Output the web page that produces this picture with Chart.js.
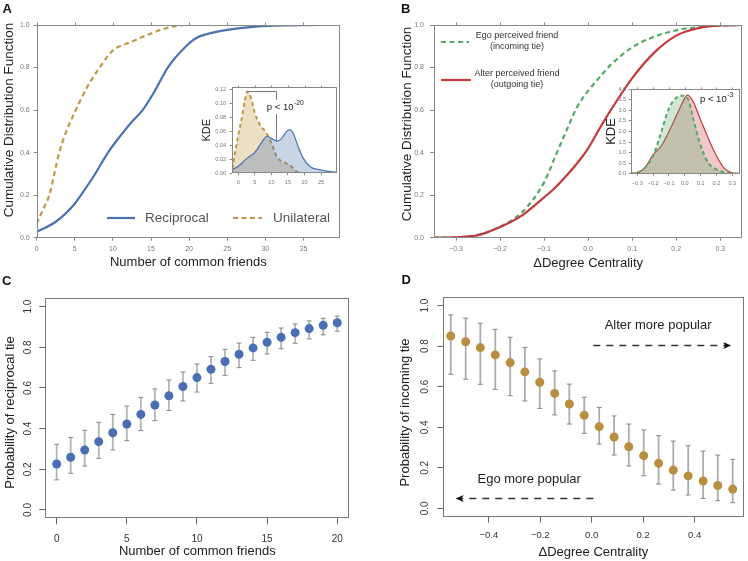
<!DOCTYPE html>
<html>
<head>
<meta charset="utf-8">
<script src="https://cdn.jsdelivr.net/npm/chart.js@4.4.1/dist/chart.umd.min.js"></script>
<style>
  body { margin:0; background:#fff; }
  #fig { position:relative; width:748px; height:561px; overflow:hidden; background:#fff; }
  #fig canvas { position:absolute; }
</style>
</head>
<body>
<div id="fig">
  <canvas id="cA" width="374" height="280" style="left:0;top:0"></canvas>
  <canvas id="cB" width="374" height="280" style="left:374px;top:0"></canvas>
  <canvas id="cC" width="374" height="281" style="left:0;top:280px"></canvas>
  <canvas id="cD" width="374" height="281" style="left:374px;top:280px"></canvas>
  <canvas id="cAi" width="150" height="110" style="left:195px;top:80px"></canvas>
  <canvas id="cBi" width="155" height="110" style="left:590px;top:80px"></canvas>
  <canvas id="cL" width="748" height="561" style="left:0;top:0"></canvas>
</div>
<script>
var FONT = '"Liberation Sans", Arial, Helvetica, sans-serif';
var BLUE = '#4c72b0', GOLD = '#bc984d', GREEN = '#55a868', RED = '#c4393d';
var DOT_BLUE = '#4a6eb4', DOT_GOLD = '#b88f3e';

// ---- panel A: CDF of number of common friends ----
var aNames = ['Reciprocal', 'Unilateral'];
var aRecipX = [0, 2.5, 5, 5.8, 7.5, 9.35, 11, 12.5, 13.9, 15.5, 17.2, 19.6, 21, 23, 25, 28, 31, 37];
var aRecipY = [0.028, 0.075, 0.16, 0.2, 0.29, 0.4, 0.48, 0.545, 0.6, 0.69, 0.8, 0.9, 0.94, 0.963, 0.977, 0.99, 0.997, 1.0];
var aUniX = [0, 0.8, 1.65, 2.96, 4, 5.13, 6.5, 8.26, 10, 12.5, 15, 17.5, 19.3];
var aUniY = [0.065, 0.13, 0.2, 0.4, 0.51, 0.6, 0.7, 0.8, 0.88, 0.922, 0.96, 0.99, 1.0];
var aXTicks = [0, 5, 10, 15, 20, 25, 30, 35];
var cdfYTicks = [0, 0.2, 0.4, 0.6, 0.8, 1.0];
var cdfTitle = 'Cumulative Distribution Function';

// inset A: KDE
var kRecX = [-2, 0, 2.5, 5, 7.6, 8.6, 10, 11.6, 13.1, 14.6, 15.6, 16.6, 18.1, 19.7, 21.7, 24.7, 27.7, 29.9];
var kRecY = [0.005, 0.01, 0.021, 0.03, 0.048, 0.053, 0.05, 0.046, 0.05, 0.06, 0.062, 0.057, 0.038, 0.021, 0.0095, 0.0048, 0.0024, 0.0014];
var kUniX = [-1.8, -1.0, 0, 1.0, 2.0, 2.7, 4.0, 5.0, 6.6, 8.6, 10, 11.6, 13.1, 14.6, 16.1, 17.6, 18.6];
var kUniY = [0.006, 0.029, 0.055, 0.078, 0.105, 0.117, 0.105, 0.086, 0.069, 0.057, 0.043, 0.024, 0.017, 0.014, 0.0095, 0.0024, 0];
var kAXTicks = [0, 5, 10, 15, 20, 25];
var kAYTicks = [0, 0.02, 0.04, 0.06, 0.08, 0.10, 0.12];
var kABracket = [2.7, 11.5, 0.117, 0.046];   // x start, x end, top y, bottom y
var kAPval = ['p < 10', '-20', 8.6, 0.094];

// ---- panel B: CDF of delta degree centrality ----
var bNames = [['Ego perceived friend', '(incoming tie)'], ['Alter perceived friend', '(outgoing tie)']];
var bX = [-0.35, -0.3, -0.25, -0.2, -0.15, -0.1, -0.075, -0.05, -0.025, 0, 0.025, 0.05, 0.1, 0.15, 0.2, 0.25, 0.3, 0.35];
var bEgo = [0, 0.002, 0.013, 0.052, 0.12, 0.26, 0.38, 0.5, 0.615, 0.69, 0.752, 0.81, 0.895, 0.945, 0.975, 0.99, 0.998, 1.0];
var bAlter = [0, 0.002, 0.012, 0.05, 0.105, 0.19, 0.235, 0.29, 0.35, 0.42, 0.51, 0.595, 0.75, 0.87, 0.95, 0.985, 0.998, 1.0];
var bXTicks = [-0.3, -0.2, -0.1, 0, 0.1, 0.2, 0.3];

// inset B: KDE
var kEgoX = [-0.342, -0.3, -0.25, -0.2, -0.15, -0.1, -0.05, -0.01, 0.025, 0.05, 0.1, 0.15, 0.2, 0.25, 0.3, 0.347];
var kEgoY = [0.01, 0.05, 0.3, 0.85, 1.95, 3.1, 3.62, 3.7, 3.45, 2.7, 1.33, 0.5, 0.2, 0.07, 0.02, 0];
var kAltX = [-0.342, -0.3, -0.25, -0.2, -0.15, -0.1, -0.05, 0, 0.015, 0.05, 0.1, 0.15, 0.2, 0.25, 0.3, 0.347];
var kAltY = [0.01, 0.05, 0.3, 0.9, 1.3, 2.0, 2.8, 3.58, 3.72, 3.45, 2.55, 1.65, 0.85, 0.25, 0.04, 0];
var kBYTicks = [0, 0.5, 1.0, 1.5, 2.0, 2.5, 3.0, 3.5, 4.0];
var kBPval = ['p < 10', '-3', 0.096, 3.53];

// ---- panel C: probability of reciprocal tie ----
var cX = [0, 1, 2, 3, 4, 5, 6, 7, 8, 9, 10, 11, 12, 13, 14, 15, 16, 17, 18, 19, 20];
var cY = [0.226, 0.259, 0.295, 0.336, 0.380, 0.423, 0.470, 0.516, 0.562, 0.607, 0.651, 0.692, 0.730, 0.766, 0.797, 0.825, 0.849, 0.872, 0.892, 0.908, 0.921];
var cHi = [0.323, 0.357, 0.392, 0.431, 0.470, 0.511, 0.554, 0.595, 0.639, 0.679, 0.718, 0.754, 0.790, 0.821, 0.849, 0.874, 0.895, 0.915, 0.930, 0.943, 0.954];
var cLo = [0.148, 0.180, 0.216, 0.254, 0.295, 0.341, 0.390, 0.439, 0.489, 0.536, 0.580, 0.623, 0.662, 0.700, 0.736, 0.767, 0.793, 0.820, 0.841, 0.861, 0.879];
var cXTicks = [0, 5, 10, 15, 20];
var probTicks = [0, 0.2, 0.4, 0.6, 0.8, 1.0];

// ---- panel D: probability of incoming tie ----
var dX = [-0.548, -0.490, -0.433, -0.375, -0.317, -0.260, -0.202, -0.144, -0.087, -0.029, 0.029, 0.087, 0.144, 0.202, 0.260, 0.317, 0.375, 0.433, 0.490, 0.548];
var dY = [0.850, 0.822, 0.793, 0.757, 0.719, 0.673, 0.622, 0.567, 0.515, 0.459, 0.403, 0.352, 0.304, 0.260, 0.222, 0.189, 0.160, 0.135, 0.113, 0.095];
var dHi = [0.954, 0.938, 0.913, 0.883, 0.844, 0.794, 0.737, 0.678, 0.613, 0.548, 0.498, 0.456, 0.416, 0.387, 0.359, 0.332, 0.309, 0.283, 0.263, 0.242];
var dLo = [0.661, 0.637, 0.612, 0.587, 0.556, 0.530, 0.493, 0.461, 0.416, 0.370, 0.317, 0.263, 0.209, 0.161, 0.120, 0.090, 0.066, 0.049, 0.038, 0.028];
var dXTicks = [-0.4, -0.2, 0, 0.2, 0.4];
var dNotes = [['Alter more popular', 0.258, 0.9], ['Ego more popular', -0.243, 0.143]];
var dArrows = [[0.006, 0.542, 0.806], [0.006, -0.529, 0.049]];   // from x, to x, y

Chart.defaults.font.family = FONT;
Chart.defaults.animation = false;

function pts(xs, ys) { return xs.map(function (x, i) { return { x: x, y: ys[i] }; }); }
function fmt(d) { return function (v) { return (v < -1e-9 ? '\u2212' : '') + Math.abs(v).toFixed(d); }; }

function axis(o) {
  return {
    type: 'linear', min: o.min, max: o.max, position: o.pos,
    afterBuildTicks: function (s) { s.ticks = o.ticks.map(function (v) { return { value: v }; }); },
    afterFit: function (s) { if (o.pos === 'left') s.width = o.size; else s.height = o.size; },
    border: { display: false },
    grid: { drawOnChartArea: false, drawTicks: true, tickLength: o.tickLen, color: o.color, tickColor: o.color, lineWidth: 1 },
    ticks: { display: o.showLabels !== false, padding: o.pad, color: o.labelColor || o.color, font: { family: FONT, size: o.fs },
             callback: o.fmt, maxRotation: 0, autoSkip: false },
    title: { display: !!o.title, text: o.title || '', color: '#222', font: { family: FONT, size: o.tfs || 13, lineHeight: 1.2 },
             padding: o.pos === 'left' ? { top: o.tpad, bottom: 0 } : { top: 0, bottom: o.tpad } }
  };
}

function boxPlugin(color, tick) {
  return { id: 'box', afterDraw: function (c) {
    var a = c.chartArea, g = c.ctx;
    var l = Math.round(a.left) + 0.5, t = Math.round(a.top) + 0.5, r = Math.round(a.right) - 0.5, b = Math.round(a.bottom) - 0.5;
    g.save(); g.strokeStyle = color; g.lineWidth = 1;
    g.strokeRect(l, t, r - l, b - t);
    if (tick) {
      g.beginPath();
      c.scales.x.ticks.forEach(function (tk) {
        var p = Math.round(c.scales.x.getPixelForValue(tk.value)) + 0.5;
        g.moveTo(p, t); g.lineTo(p, t - tick);
      });
      g.stroke();
    }
    g.restore();
  } };
}

// y-axis title drawn at a given spot (the original centres it a bit above the plot middle)
function yTitle(text, x, y, fs) {
  return { id: 'yTitle', afterDraw: function (c) {
    var g = c.ctx; g.save();
    g.fillStyle = '#222'; g.font = fs + 'px ' + FONT; g.textAlign = 'center'; g.textBaseline = 'middle';
    g.translate(x, y); g.rotate(-Math.PI / 2); g.fillText(text, 0, 0);
    g.restore();
  } };
}

var whiteBg = { id: 'whiteBg', beforeDraw: function (c) {
  var a = c.chartArea; c.ctx.save(); c.ctx.fillStyle = '#fff';
  c.ctx.fillRect(a.left, a.top, a.right - a.left, a.bottom - a.top); c.ctx.restore();
} };

function pText(g, x, y, base, sup, fs) {
  g.save();
  g.font = fs + 'px ' + FONT; var w = g.measureText(base).width;
  g.font = (fs * 0.72) + 'px ' + FONT; var w2 = g.measureText(sup).width;
  g.fillStyle = '#fff'; g.fillRect(x - 1.5, y - fs * 0.8, w + w2 + 3.5, fs * 1.5);
  g.fillStyle = '#222'; g.textBaseline = 'middle'; g.textAlign = 'left';
  g.font = fs + 'px ' + FONT; g.fillText(base, x, y);
  g.font = (fs * 0.72) + 'px ' + FONT; g.fillText(sup, x + w + 0.5, y - fs * 0.42);
  g.restore();
}

function errPlugin(xs, lo, hi, lineColor, capColor, cap) {
  return { id: 'err', beforeDatasetsDraw: function (c) {
    var g = c.ctx, sx = c.scales.x, sy = c.scales.y;
    g.save();
    xs.forEach(function (x, i) {
      var px = sx.getPixelForValue(x), y0 = sy.getPixelForValue(lo[i]), y1 = sy.getPixelForValue(hi[i]);
      g.strokeStyle = lineColor; g.lineWidth = 1.8;
      g.beginPath(); g.moveTo(px, y0); g.lineTo(px, y1); g.stroke();
      g.strokeStyle = capColor; g.lineWidth = 1;
      g.beginPath(); g.moveTo(px - cap, y0); g.lineTo(px + cap, y0); g.moveTo(px - cap, y1); g.lineTo(px + cap, y1); g.stroke();
    });
    g.restore();
  } };
}

function rotLabels(vals, xc, f, color, fs) {
  return { id: 'rotLabels', afterDraw: function (c) {
    var g = c.ctx, sy = c.scales.y;
    g.save(); g.fillStyle = color; g.font = fs + 'px ' + FONT; g.textAlign = 'center'; g.textBaseline = 'middle';
    vals.forEach(function (v) {
      g.save(); g.translate(xc, sy.getPixelForValue(v)); g.rotate(-Math.PI / 2); g.fillText(f(v), 0, 0); g.restore();
    });
    g.restore();
  } };
}

var baseOpts = function (pad, scales) {
  return { responsive: false, animation: false, layout: { padding: pad },
           plugins: { legend: { display: false }, tooltip: { enabled: false } }, scales: scales };
};

// ---- A ----
var legendA = { id: 'legA', afterDraw: function (c) {
  var g = c.ctx; g.save();
  g.lineWidth = 2.2; g.strokeStyle = BLUE;
  g.beginPath(); g.moveTo(107, 218); g.lineTo(135, 218); g.stroke();
  g.strokeStyle = GOLD; g.setLineDash([5, 3.5]);
  g.beginPath(); g.moveTo(233, 218); g.lineTo(262, 218); g.stroke(); g.setLineDash([]);
  g.fillStyle = '#555'; g.font = '13.5px ' + FONT; g.textBaseline = 'middle'; g.textAlign = 'left';
  g.fillText(aNames[0], 145, 218.5); g.fillText(aNames[1], 273, 218.5);
  g.restore();
} };

new Chart(document.getElementById('cA'), {
  type: 'line',
  data: { datasets: [
    { data: pts(aUniX, aUniY), borderColor: GOLD, borderWidth: 2.2, borderDash: [5, 3.5], pointRadius: 0, cubicInterpolationMode: 'monotone', fill: false },
    { data: pts(aRecipX, aRecipY), borderColor: BLUE, borderWidth: 2.2, pointRadius: 0, cubicInterpolationMode: 'monotone', fill: false }
  ] },
  options: baseOpts({ left: 0, right: 34, top: 25, bottom: 0 }, {
    x: axis({ pos: 'bottom', min: 0, max: 39.8, ticks: aXTicks, size: 42.3, tickLen: 3, pad: 4, fs: 7, color: '#888', labelColor: '#777', fmt: fmt(0), title: 'Number of common friends', tpad: 9.5 }),
    y: axis({ pos: 'left', min: 0, max: 1, ticks: cdfYTicks, size: 36.7, tickLen: 3, pad: 4, fs: 7, color: '#888', labelColor: '#777', fmt: fmt(1) })
  }),
  plugins: [boxPlugin('#888', 3), legendA, yTitle(cdfTitle, 9.5, 120, 13.5)]
});

// ---- inset A ----
var bracketA = { id: 'bracketA', afterDraw: function (c) {
  var g = c.ctx, sx = c.scales.x, sy = c.scales.y;
  g.save(); g.strokeStyle = '#777'; g.lineWidth = 1;
  var x0 = sx.getPixelForValue(kABracket[0]), x1 = Math.round(sx.getPixelForValue(kABracket[1])) + 0.5;
  var y0 = Math.round(sy.getPixelForValue(kABracket[2])) + 0.5, y1 = sy.getPixelForValue(kABracket[3]);
  g.beginPath(); g.moveTo(x0, y0); g.lineTo(x1, y0); g.lineTo(x1, y1); g.stroke();
  g.restore();
  pText(g, sx.getPixelForValue(kAPval[2]), sy.getPixelForValue(kAPval[3]), kAPval[0], kAPval[1], 9.5);
} };

new Chart(document.getElementById('cAi'), {
  type: 'line',
  data: { datasets: [
    { data: pts(kRecX, kRecY), borderColor: BLUE, borderWidth: 1.2, backgroundColor: 'rgba(76,114,176,0.3)', fill: 'origin', pointRadius: 0, cubicInterpolationMode: 'monotone' },
    { data: pts(kUniX, kUniY), borderColor: GOLD, borderWidth: 2, borderDash: [4, 3], backgroundColor: 'rgba(204,170,100,0.38)', fill: 'origin', pointRadius: 0, cubicInterpolationMode: 'monotone' }
  ] },
  options: baseOpts({ left: 0, right: 7.7, top: 7.3, bottom: 0 }, {
    x: axis({ pos: 'bottom', min: -2, max: 29.9, ticks: kAXTicks, size: 16.7, tickLen: 2, pad: 3.5, fs: 5.6, color: '#888', labelColor: '#777', fmt: fmt(0) }),
    y: axis({ pos: 'left', min: 0, max: 0.123, ticks: kAYTicks, size: 36.7, tickLen: 2, pad: 3.5, fs: 5.6, color: '#888', labelColor: '#777', fmt: fmt(2), title: 'KDE', tfs: 11, tpad: 5.4 })
  }),
  plugins: [whiteBg, boxPlugin('#888', 2), bracketA]
});

// ---- B ----
var legendB = { id: 'legB', afterDraw: function (c) {
  var g = c.ctx; g.save();
  g.lineWidth = 2.2; g.strokeStyle = GREEN; g.setLineDash([5, 3.5]);
  g.beginPath(); g.moveTo(67, 42); g.lineTo(95, 42); g.stroke(); g.setLineDash([]);
  g.strokeStyle = RED; g.beginPath(); g.moveTo(67, 80); g.lineTo(97, 80); g.stroke();
  g.fillStyle = '#333'; g.font = '9px ' + FONT; g.textBaseline = 'middle'; g.textAlign = 'center';
  g.fillText(bNames[0][0], 143, 35.5); g.fillText(bNames[0][1], 143, 46.5);
  g.fillText(bNames[1][0], 143, 73.5); g.fillText(bNames[1][1], 143, 84.5);
  g.restore();
} };

new Chart(document.getElementById('cB'), {
  type: 'line',
  data: { datasets: [
    { data: pts(bX, bAlter), borderColor: RED, borderWidth: 2.2, pointRadius: 0, cubicInterpolationMode: 'monotone', fill: false },
    { data: pts(bX, bEgo), borderColor: GREEN, borderWidth: 2.2, borderDash: [5, 3.5], pointRadius: 0, cubicInterpolationMode: 'monotone', fill: false }
  ] },
  options: baseOpts({ left: 0, right: 5.7, top: 25, bottom: 0 }, {
    x: axis({ pos: 'bottom', min: -0.35, max: 0.35, ticks: bXTicks, size: 42.3, tickLen: 3, pad: 4, fs: 7, color: '#888', labelColor: '#777', fmt: fmt(1), title: '\u0394Degree Centrality', tpad: 9.2 }),
    y: axis({ pos: 'left', min: 0, max: 1, ticks: cdfYTicks, size: 60, tickLen: 4, pad: 6, fs: 7, color: '#888', labelColor: '#777', fmt: fmt(1) })
  }),
  plugins: [boxPlugin('#888', 3), legendB, yTitle(cdfTitle, 33, 124, 13.5)]
});

// ---- inset B ----
var pvalB = { id: 'pvalB', afterDraw: function (c) {
  pText(c.ctx, c.scales.x.getPixelForValue(kBPval[2]), c.scales.y.getPixelForValue(kBPval[3]), kBPval[0], kBPval[1], 9.5);
} };

new Chart(document.getElementById('cBi'), {
  type: 'line',
  data: { datasets: [
    { data: pts(kEgoX, kEgoY), borderColor: GREEN, borderWidth: 2, borderDash: [4, 3], backgroundColor: 'rgba(85,168,104,0.28)', fill: 'origin', pointRadius: 0, cubicInterpolationMode: 'monotone' },
    { data: pts(kAltX, kAltY), borderColor: RED, borderWidth: 1.2, backgroundColor: 'rgba(196,60,63,0.28)', fill: 'origin', pointRadius: 0, cubicInterpolationMode: 'monotone' }
  ] },
  options: baseOpts({ left: 0, right: 5.3, top: 9.3, bottom: 0 }, {
    x: axis({ pos: 'bottom', min: -0.342, max: 0.347, ticks: bXTicks, size: 16.3, tickLen: 2, pad: 4, fs: 5.6, color: '#888', labelColor: '#777', fmt: fmt(1) }),
    y: axis({ pos: 'left', min: 0, max: 4.0, ticks: kBYTicks, size: 40.7, tickLen: 2, pad: 2.5, fs: 5.6, color: '#888', labelColor: '#777', fmt: fmt(1), title: 'KDE', tfs: 13, tpad: 13.5 })
  }),
  plugins: [whiteBg, boxPlugin('#888', 2), pvalB]
});

// ---- C ----
new Chart(document.getElementById('cC'), {
  type: 'scatter',
  data: { datasets: [{ data: pts(cX, cY), pointRadius: 4.5, pointBackgroundColor: DOT_BLUE, pointBorderColor: DOT_BLUE, pointBorderWidth: 0 }] },
  options: baseOpts({ left: 0, right: 24.7, top: 18.3, bottom: 0 }, {
    x: axis({ pos: 'bottom', min: -0.81, max: 20.86, ticks: cXTicks, size: 42.7, tickLen: 6, pad: 8.7, fs: 10, color: '#666', labelColor: '#333', fmt: fmt(0), title: 'Number of common friends', tpad: 1.5 }),
    y: axis({ pos: 'left', min: -0.041, max: 1.041, ticks: probTicks, size: 45.3, tickLen: 6, pad: 0, fs: 10, color: '#666', showLabels: false })
  }),
  plugins: [boxPlugin('#777', 0), errPlugin(cX, cLo, cHi, '#b4b4b4', '#888', 2.5), rotLabels(probTicks, 28.3, fmt(1), '#333', 10),
            yTitle('Probability of reciprocal tie', 10, 132.5, 13)]
});

// ---- D ----
var notesD = { id: 'notesD', afterDraw: function (c) {
  var g = c.ctx, sx = c.scales.x, sy = c.scales.y;
  g.save();
  g.fillStyle = '#222'; g.font = '13px ' + FONT; g.textAlign = 'center'; g.textBaseline = 'middle';
  dNotes.forEach(function (n) { g.fillText(n[0], sx.getPixelForValue(n[1]), sy.getPixelForValue(n[2])); });
  dArrows.forEach(function (a) {
    var x0 = sx.getPixelForValue(a[0]), x1 = sx.getPixelForValue(a[1]), y = Math.round(sy.getPixelForValue(a[2])) + 0.5;
    var dir = x1 > x0 ? 1 : -1;
    g.strokeStyle = '#333'; g.lineWidth = 1.4; g.setLineDash([7, 6]);
    g.beginPath(); g.moveTo(x0, y); g.lineTo(x1 - dir * 6, y); g.stroke(); g.setLineDash([]);
    g.fillStyle = '#111';
    g.beginPath(); g.moveTo(x1, y); g.lineTo(x1 - dir * 8, y - 3.5); g.lineTo(x1 - dir * 6, y); g.lineTo(x1 - dir * 8, y + 3.5); g.closePath(); g.fill();
  });
  g.restore();
} };

new Chart(document.getElementById('cD'), {
  type: 'scatter',
  data: { datasets: [{ data: pts(dX, dY), pointRadius: 4.5, pointBackgroundColor: DOT_GOLD, pointBorderColor: DOT_GOLD, pointBorderWidth: 0 }] },
  options: baseOpts({ left: 0, right: 3.3, top: 17.3, bottom: 0 }, {
    x: axis({ pos: 'bottom', min: -0.577, max: 0.590, ticks: dXTicks, size: 44.3, tickLen: 6, pad: 7.3, fs: 9.5, color: '#666', labelColor: '#333', fmt: fmt(1), title: '\u0394Degree Centrality', tpad: 0.5 }),
    y: axis({ pos: 'left', min: -0.041, max: 1.041, ticks: probTicks, size: 69.3, tickLen: 6, pad: 0, fs: 10, color: '#666', showLabels: false })
  }),
  plugins: [boxPlugin('#777', 0), errPlugin(dX, dLo, dHi, '#acacac', '#888', 2.5), rotLabels(probTicks, 51.7, fmt(1), '#333', 10), notesD,
            yTitle('Probability of incoming tie', 31.7, 132.5, 13)]
});

// panel letters
var L = document.getElementById('cL').getContext('2d');
L.font = 'bold 13px ' + FONT; L.fillStyle = '#111'; L.textBaseline = 'alphabetic'; L.textAlign = 'left';
L.fillText('A', 2.5, 13.3); L.fillText('B', 401, 13.3); L.fillText('C', 2, 284.5); L.fillText('D', 401.5, 283.5);
</script>
</body>
</html>
